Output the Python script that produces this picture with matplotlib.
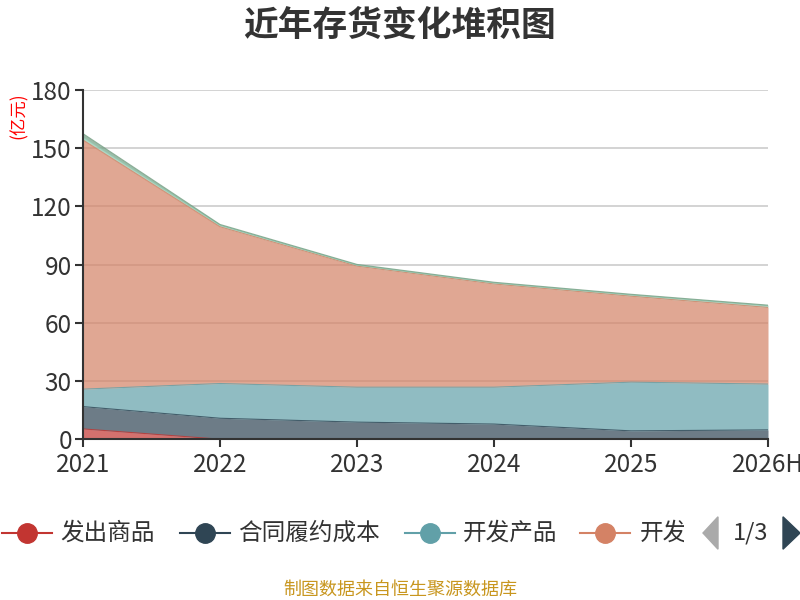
import numpy as np
import matplotlib
matplotlib.use("Agg")
import matplotlib.pyplot as plt
from matplotlib.patches import Rectangle, Polygon
from matplotlib.lines import Line2D

plt.rcParams['font.family'] = ['Noto Sans CJK SC', 'DejaVu Sans']

# data (亿元)
years = ['2021', '2022', '2023', '2024', '2025', '2026H']
fachu = [5.3, 0.0, 0.0, 0.0, 0.0, 0.0]            # 发出商品
hetong = [11.5, 10.8, 8.8, 7.8, 4.3, 4.8]         # 合同履约成本
kaifa_chanpin = [9.0, 17.9, 18.0, 19.0, 25.1, 23.6]  # 开发产品
kaifa_chengben = [128.4, 80.8, 62.4, 53.2, 44.3, 39.5]  # 开发成本
yuancailiao = [1.5, 0.8, 0.6, 0.6, 0.7, 0.9]     # 原材料
kucun = [1.8, 0.4, 0.3, 0.3, 0.3, 0.3]           # 库存商品

names = ['发出商品', '合同履约成本', '开发产品', '开发成本', '原材料', '库存商品']
colors = ['#c23531', '#2f4554', '#61a0a8', '#d48265', '#91c7ae', '#749f83']
series = [fachu, hetong, kaifa_chanpin, kaifa_chengben, yuancailiao, kucun]

fig = plt.figure(figsize=(8, 6), dpi=100)
ax = fig.add_axes([0.10375, 0.268, 0.85625, 0.582])

x = np.arange(len(years))
base = np.zeros(len(years))
for vals, c in zip(series, colors):
    top = base + np.array(vals)
    ax.fill_between(x, base, top, color=c, alpha=0.7, linewidth=0, zorder=2)
    ax.plot(x, top, color=c, linewidth=0.8, alpha=0.8, zorder=3)
    base = top

ax.set_xlim(0, len(years) - 1)
ax.set_ylim(0, 180)
ax.set_yticks(range(0, 181, 30))
ax.set_xticks(x)
ax.set_xticklabels(years)
ax.grid(axis='y', color='#cccccc', linewidth=1.2, zorder=1)
ax.set_axisbelow(True)
for s in ['top', 'right']:
    ax.spines[s].set_visible(False)
for s in ['left', 'bottom']:
    ax.spines[s].set_color('#333333')
    ax.spines[s].set_linewidth(1.5)
    ax.spines[s].set_zorder(4)
ax.tick_params(axis='both', colors='#333333', labelsize=17.5, length=6, width=1.5)
ax.tick_params(axis='x', pad=3)
ax.tick_params(axis='y', pad=2)

fig.text(0.5, 0.958, '近年存货变化堆积图', ha='center', va='center',
         fontsize=25, fontweight='bold', color='#333333')
fig.text(0.023, 0.808, '(亿元)', ha='center', va='center', rotation=90,
         fontsize=12.5, color='red')

# legend (page 1 of 3)
ly = 1 - 533 / 600
items = [(27, 60, '发出商品'), (205, 238, '合同履约成本'),
         (430, 463, '开发产品'), (605, 640, '开发成本')]
for (cx, tx, label), c in zip(items, colors):
    fig.add_artist(Line2D([(cx - 25) / 800, (cx + 25) / 800], [ly, ly],
                          color=c, linewidth=1.5))
    fig.add_artist(Line2D([cx / 800], [ly], marker='o', markersize=14,
                          color=c, markeredgecolor=c))
    t = fig.text(tx / 800, ly, label, ha='left', va='center',
                 fontsize=17, color='#333333')
    clip = Rectangle((0, 0), 684 / 800, 1, transform=fig.transFigure)
    t.set_clip_path(clip)

fig.add_artist(Polygon([[703 / 800, ly], [718 / 800, ly + 0.027],
                        [718 / 800, ly - 0.027]], closed=True,
                       color='#aaaaaa', transform=fig.transFigure))
fig.text(751 / 800, ly, '1/3', ha='center', va='center', fontsize=17,
         color='#333333')
fig.add_artist(Polygon([[800 / 800, ly], [783 / 800, ly + 0.027],
                        [783 / 800, ly - 0.027]], closed=True,
                       color='#2f4554', transform=fig.transFigure))

fig.text(0.5, 1 - 590 / 600, '制图数据来自恒生聚源数据库', ha='center',
         va='center', fontsize=13, color='#c8961e')

fig.savefig('out.png', dpi=100)
